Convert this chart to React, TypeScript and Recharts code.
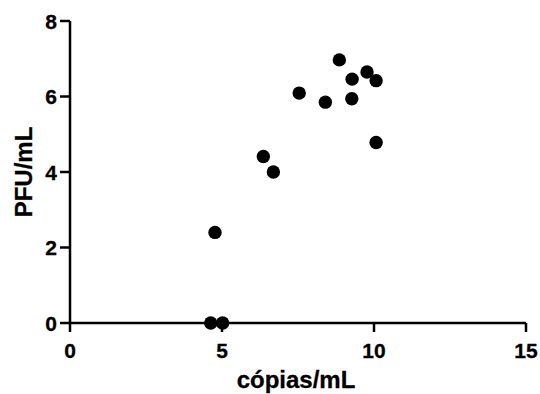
import React from "react";
import { ScatterChart, Scatter, XAxis, YAxis } from "recharts";

const copias: number[] = [4.63, 5.02, 4.77, 6.36, 6.69, 7.54, 8.4, 8.86, 9.27, 9.28, 9.77, 10.07, 10.07];
const pfu: number[] = [0, 0, 2.4, 4.41, 4.0, 6.09, 5.85, 6.97, 5.94, 6.46, 6.65, 6.42, 4.78];
const xTicks: number[] = [0, 5, 10, 15];
const yTicks: number[] = [0, 2, 4, 6, 8];
const xTitle = "cópias/mL";
const yTitle = "PFU/mL";

const data = copias.map((x, i) => ({ x, y: pfu[i] }));

const FONT = "'Liberation Sans', Arial, sans-serif";
const txtStyle: React.CSSProperties = { fontFamily: FONT, fontWeight: 700, fontSize: 21, fill: "#000", stroke: "#000", strokeWidth: 0.3 };

const renderXTick = (props: any) => {
  const { x, payload } = props;
  return (
    <text x={x} y={358} textAnchor="middle" style={txtStyle}>
      {payload.value}
    </text>
  );
};

const renderYTick = (props: any) => {
  const { y, payload } = props;
  return (
    <text x={57} y={y + 7.5} textAnchor="end" style={txtStyle}>
      {payload.value}
    </text>
  );
};

const XTitle = (props: any) => {
  const vb = props.viewBox || {};
  const cx = vb.x + vb.width / 2;
  return (
    <text x={cx - 2} y={388} textAnchor="middle" style={{ ...txtStyle, fontSize: 24 }}>
      {xTitle}
    </text>
  );
};

const YTitle = (props: any) => {
  const vb = props.viewBox || {};
  const cy = vb.y + vb.height / 2;
  return (
    <text x={32} y={cy} transform={`rotate(-90, 32, ${cy})`} textAnchor="middle" style={{ ...txtStyle, fontSize: 24 }}>
      {yTitle}
    </text>
  );
};

const Dot = (props: any) => {
  const { cx, cy } = props;
  if (cx == null || cy == null) return null;
  return <circle cx={cx} cy={cy} r={6.7} fill="#000" />;
};

export default function App() {
  return (
    <div style={{ position: "absolute", left: 0, top: 0, width: 540, height: 394, background: "#fff" }}>
      <ScatterChart width={540} height={394} margin={{ top: 21, right: 14, left: 0, bottom: 0 }}>
        <XAxis
          type="number"
          dataKey="x"
          domain={[0, 15]}
          ticks={xTicks}
          height={71}
          tickSize={9}
          stroke="#000"
          strokeWidth={2.5}
          axisLine={{ stroke: "#000", strokeWidth: 2.5 }}
          tickLine={{ stroke: "#000", strokeWidth: 2.5 }}
          tick={renderXTick}
          label={<XTitle />}
        />
        <YAxis
          type="number"
          dataKey="y"
          domain={[0, 8]}
          ticks={yTicks}
          width={70}
          tickSize={10}
          stroke="#000"
          strokeWidth={2.5}
          axisLine={{ stroke: "#000", strokeWidth: 2.5 }}
          tickLine={{ stroke: "#000", strokeWidth: 2.5 }}
          tick={renderYTick}
          label={<YTitle />}
        />
        <Scatter data={data} fill="#000" shape={<Dot />} isAnimationActive={false} />
      </ScatterChart>
    </div>
  );
}
